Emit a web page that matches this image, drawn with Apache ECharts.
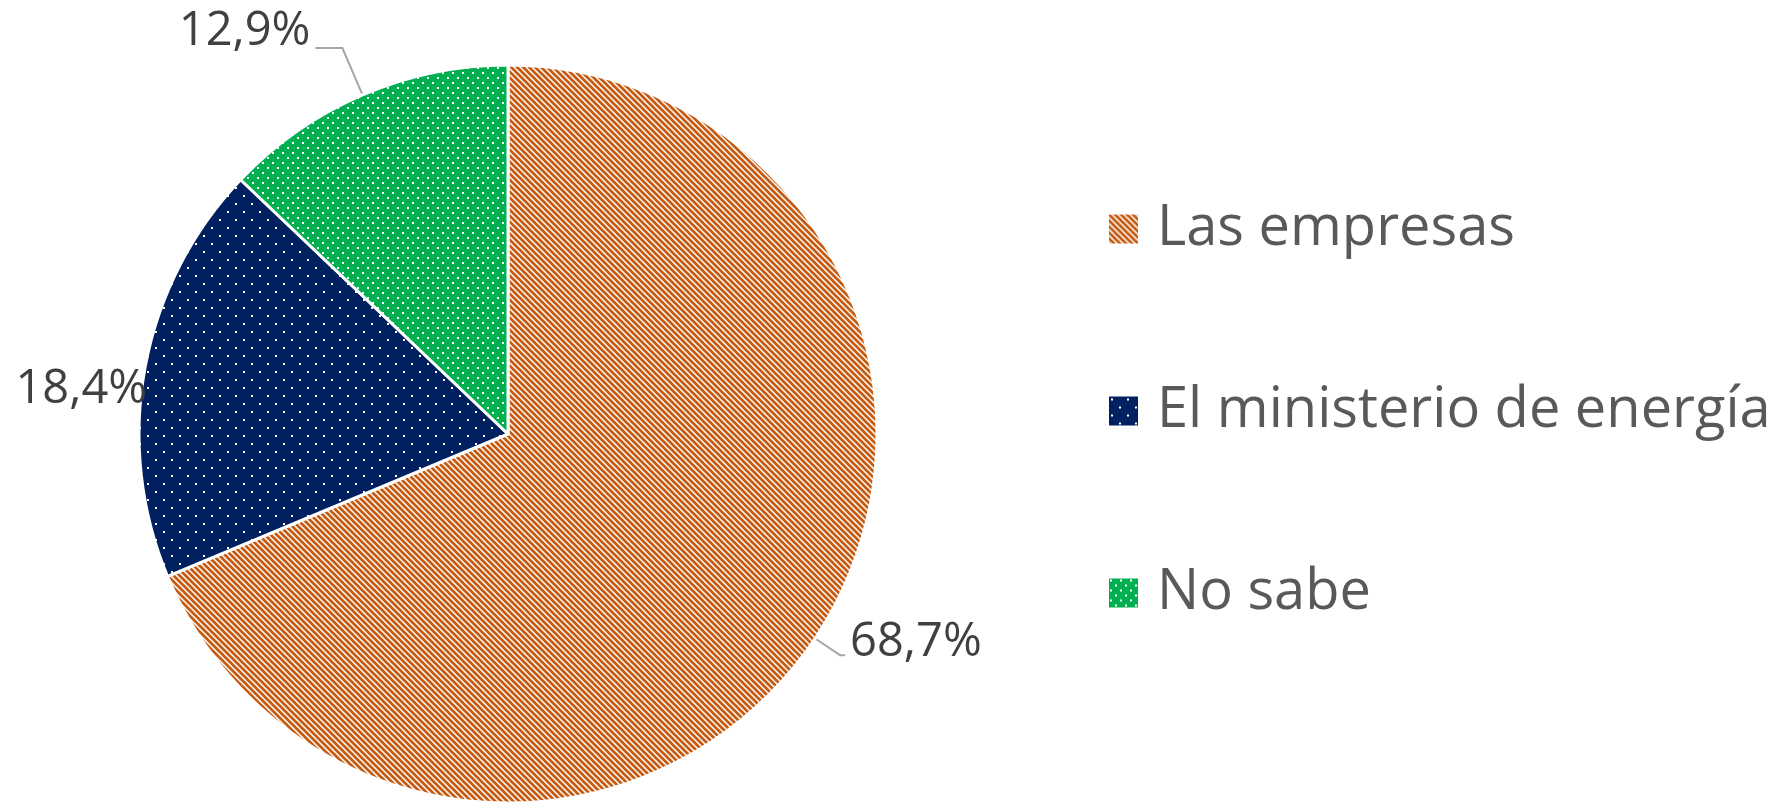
<!DOCTYPE html>
<html>
<head>
<meta charset="utf-8">
<script src="https://cdn.jsdelivr.net/npm/echarts@6/dist/echarts.min.js"></script>
<style>
  html, body { margin: 0; padding: 0; background: #fff; }
  #chart { width: 1790px; height: 804px; }
</style>
</head>
<body>
<div id="chart"></div>
<script>
// data
const categories = ['Las empresas', 'El ministerio de energía', 'No sabe'];
const values = [68.7, 18.4, 12.9];

// pattern tiles (excel-like fills)
function stripes(color) {
  const c = document.createElement('canvas');
  c.width = 6; c.height = 6;
  const ctx = c.getContext('2d');
  ctx.fillStyle = '#fff';
  ctx.fillRect(0, 0, 6, 6);
  ctx.strokeStyle = color;
  ctx.lineWidth = 2.7;
  [-6, 0, 6].forEach(k => {
    ctx.beginPath();
    ctx.moveTo(k - 1, -1);
    ctx.lineTo(k + 7, 7);
    ctx.stroke();
  });
  return c;
}
function dots(color, size, d) {
  const c = document.createElement('canvas');
  c.width = size; c.height = size;
  const ctx = c.getContext('2d');
  ctx.fillStyle = color;
  ctx.fillRect(0, 0, size, size);
  ctx.fillStyle = '#fff';
  ctx.fillRect(d, d, 2, 2);
  ctx.fillRect(d + size / 2, d + size / 2, 2, 2);
  return c;
}

const fills = [
  { image: stripes('#C55A11'), repeat: 'repeat' },
  { image: dots('#002060', 16, 3), repeat: 'repeat' },
  { image: dots('#00B050', 10, 2), repeat: 'repeat' }
];

const pct = v => v.toFixed(1).replace('.', ',') + '%';

// excel puts the text a bit above / below the leader end, done with an empty rich line
const labelFmt = [
  v => '{t|' + pct(v) + '}\n{g1| }',
  v => '{g2| }\n{t|' + pct(v) + '}',
  v => '{t|' + pct(v) + '}\n{g3| }'
];
const labelLines = [
  { length: 30, length2: 5 },
  { show: false, length: 0, length2: 0 },
  { length: 51, length2: 27 }
];
const labelDist = [5, -2, 5];

const chart = echarts.init(document.getElementById('chart'));
const option = {
  animation: false,
  legend: {
    orient: 'vertical',
    left: 1107,
    top: 199,
    padding: 0,
    itemWidth: 31,
    itemHeight: 31,
    itemGap: 122,
    icon: 'rect',
    data: categories,
    textStyle: {
      fontFamily: 'Open Sans',
      fontSize: 56,
      lineHeight: 60,
      color: '#595959',
      padding: [0, 0, 0, 13]
    }
  },
  series: [
    {
      type: 'pie',
      center: [508, 434],
      radius: 369,
      startAngle: 90,
      clockwise: true,
      avoidLabelOverlap: false,
      itemStyle: { borderColor: '#fff', borderWidth: 3 },
      label: {
        show: true,
        position: 'outside',
        rich: {
          t: { fontFamily: 'Open Sans', fontSize: 47, color: '#404040', lineHeight: 56 },
          g1: { fontSize: 10, lineHeight: 26 },
          g2: { fontSize: 10, lineHeight: 44 },
          g3: { fontSize: 10, lineHeight: 32 }
        }
      },
      labelLine: {
        lineStyle: { color: '#A6A6A6', width: 2 }
      },
      data: categories.map((name, i) => ({
        name: name,
        value: values[i],
        itemStyle: { color: fills[i] },
        label: { formatter: p => labelFmt[i](p.value), distanceToLabelLine: labelDist[i] },
        labelLine: labelLines[i]
      }))
    }
  ]
};
chart.setOption(option);
</script>
</body>
</html>
